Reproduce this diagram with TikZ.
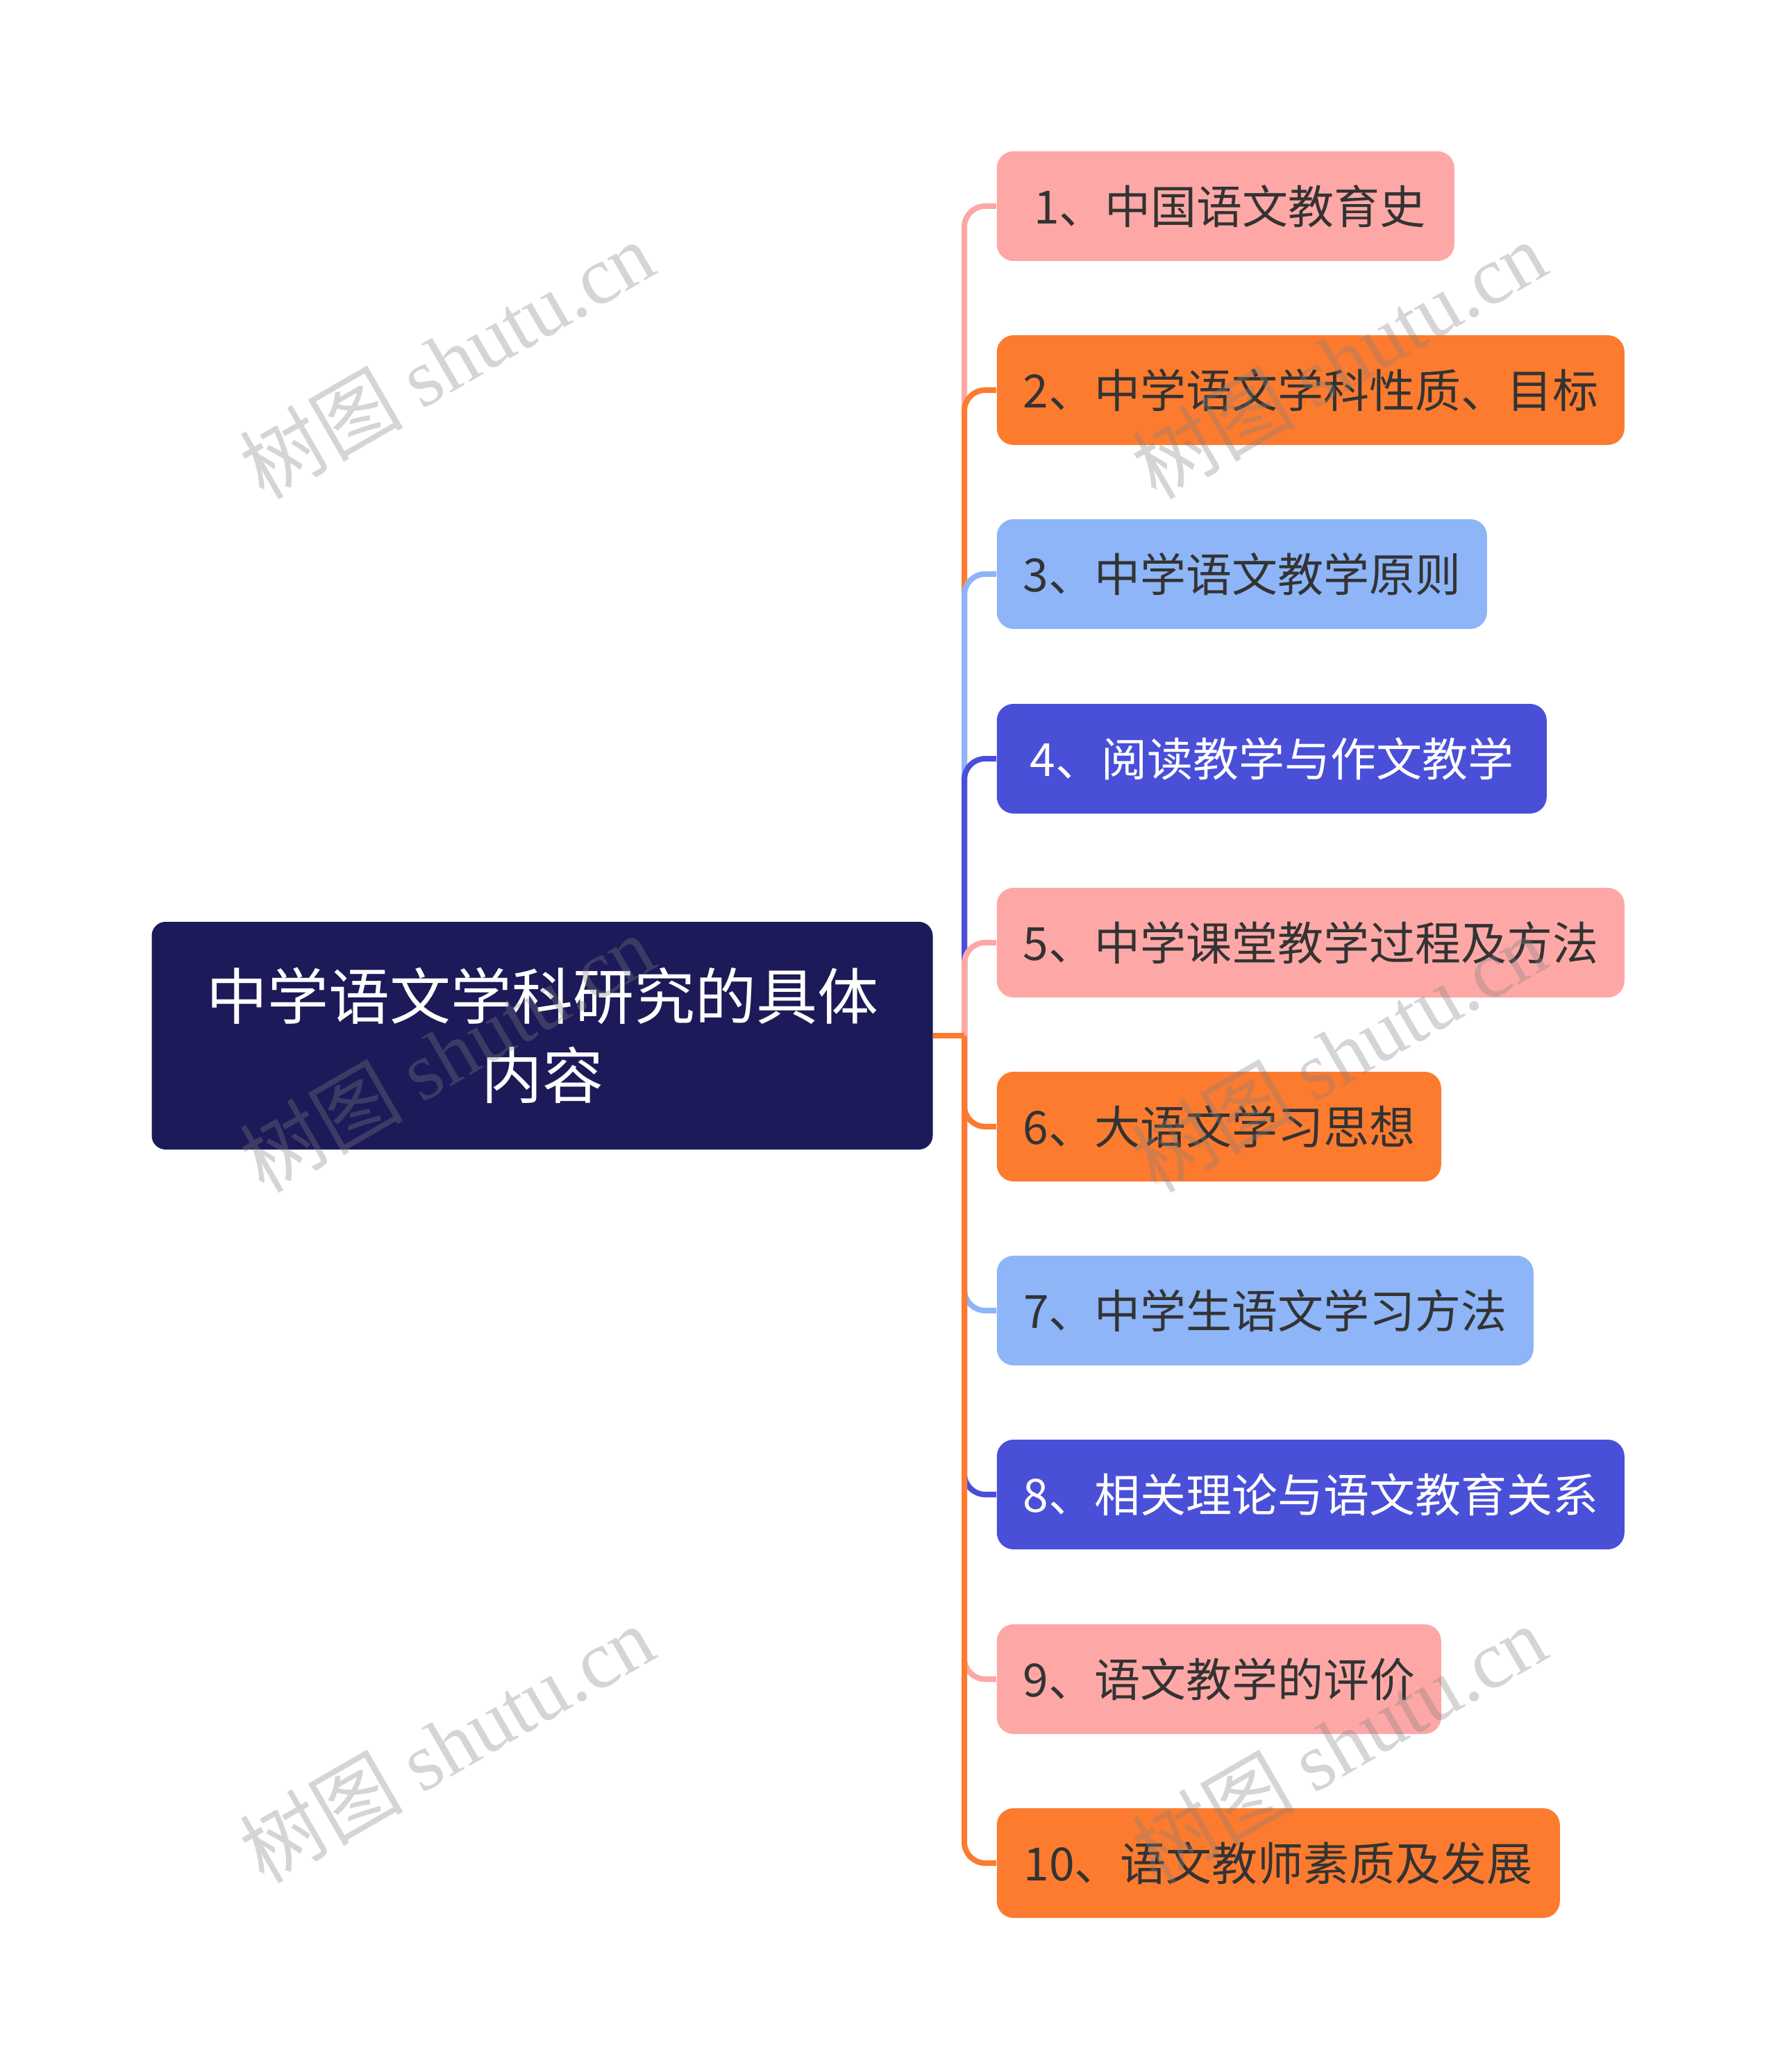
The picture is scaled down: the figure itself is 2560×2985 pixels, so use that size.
\documentclass[tikz,border=0pt]{standalone}
\usepackage{fontspec}
\setmainfont{Noto Sans CJK SC}
\newfontfamily\cjkfont{Noto Sans CJK SC}
\newfontfamily\wmserif{Liberation Serif}
\definecolor{cpink}{HTML}{FDA8A6}
\definecolor{corange}{HTML}{FC7B2F}
\definecolor{clblue}{HTML}{8DB5F8}
\definecolor{cblue}{HTML}{4A4FD8}
\definecolor{cnavy}{HTML}{1C1A58}
\definecolor{ctext}{HTML}{333333}
\tikzset{
  leafbox/.style={rectangle, rounded corners=6pt, minimum height=39.5pt, inner sep=0pt, anchor=west,
    font=\cjkfont\fontsize{16.5}{20}\selectfont},
  pinkbox/.style={leafbox, fill=cpink, text=ctext},
  orangebox/.style={leafbox, fill=corange, text=ctext},
  lbluebox/.style={leafbox, fill=clblue, text=ctext},
  bluebox/.style={leafbox, fill=cblue, text=white},
  rootbox/.style={rectangle, rounded corners=5pt, fill=cnavy, text=white, inner sep=0pt,
    minimum width=281.25pt, minimum height=82pt, align=center,
    font=\cjkfont\fontsize{22}{28.5}\selectfont},
  link/.style={line width=2pt, rounded corners=7.5pt},
  wm/.style={text=black!50, opacity=0.33, rotate=30, font=\fontsize{29.5}{29.5}\selectfont}
}
\begin{document}
\begin{tikzpicture}[x=0.25pt, y=-0.25pt]
\useasboundingbox (0,0) rectangle (2560,2985);
\fill[white] (0,0) rectangle (2560,2985);

\node[rootbox] (root) at (781,1492) {中学语文学科研究的具体\\内容};

\node[pinkbox,   minimum width=164.75pt] (c1)  at (1435,297)  {\hspace*{3pt}1、中国语文教育史};
\node[orangebox, minimum width=226pt]    (c2)  at (1435,562)  {2、中学语文学科性质、目标};
\node[lbluebox,  minimum width=176.5pt]  (c3)  at (1435,827)  {3、中学语文教学原则};
\node[bluebox,   minimum width=198pt]    (c4)  at (1435,1093) {4、阅读教学与作文教学};
\node[pinkbox,   minimum width=226pt]    (c5)  at (1435,1358) {5、中学课堂教学过程及方法};
\node[orangebox, minimum width=160pt]    (c6)  at (1435,1623) {6、大语文学习思想};
\node[lbluebox,  minimum width=193.25pt] (c7)  at (1435,1888) {7、中学生语文学习方法};
\node[bluebox,   minimum width=226pt]    (c8)  at (1435,2153) {8、相关理论与语文教育关系};
\node[pinkbox,   minimum width=160pt]    (c9)  at (1435,2419) {9、语文教学的评价};
\node[orangebox, minimum width=202.75pt] (c10) at (1435,2684) {10、语文教师素质及发展};

\coordinate (J) at (1389,1492);
\draw[link, draw=cpink]   (J) -- (J |- c1)  -- (c1.west);
\draw[link, draw=corange] (J) -- (J |- c2)  -- (c2.west);
\draw[link, draw=clblue]  (J) -- (J |- c3)  -- (c3.west);
\draw[link, draw=cblue]   (J) -- (J |- c4)  -- (c4.west);
\draw[link, draw=cpink]   (J) -- (J |- c5)  -- (c5.west);
\draw[link, draw=corange] (J) -- (J |- c6)  -- (c6.west);
\draw[link, draw=clblue]  (J) -- (J |- c7)  -- (c7.west);
\draw[link, draw=cblue]   (J) -- (J |- c8)  -- (c8.west);
\draw[link, draw=cpink]   (J) -- (J |- c9)  -- (c9.west);
\draw[link, draw=corange] (J) -- (J |- c10) -- (c10.west);
\draw[line width=2pt, draw=corange] (root.east) -- (J);

\node[wm] (w1) at (643,518)  {{\cjkfont 树图} {\wmserif shutu.cn}};
\node[wm] (w2) at (1928,518) {{\cjkfont 树图} {\wmserif shutu.cn}};
\node[wm] (w3) at (643,1517) {{\cjkfont 树图} {\wmserif shutu.cn}};
\node[wm] (w4) at (1928,1517){{\cjkfont 树图} {\wmserif shutu.cn}};
\node[wm] (w5) at (643,2512) {{\cjkfont 树图} {\wmserif shutu.cn}};
\node[wm] (w6) at (1928,2512){{\cjkfont 树图} {\wmserif shutu.cn}};
\end{tikzpicture}
\end{document}
